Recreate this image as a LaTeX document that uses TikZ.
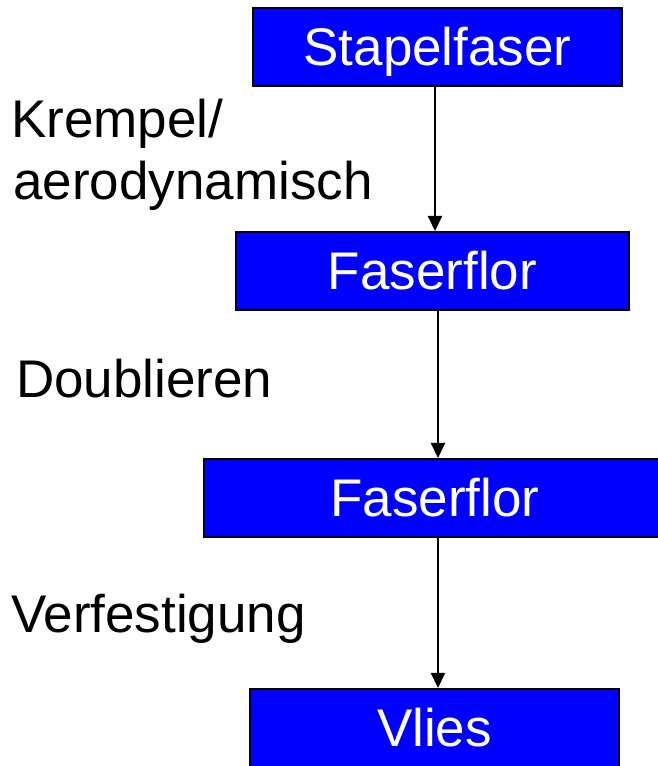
\documentclass[tikz,border=0pt]{standalone}
\usepackage{fontspec}
\setmainfont{Liberation Sans}
\usetikzlibrary{arrows.meta}

\begin{document}
\begin{tikzpicture}[x=1pt,y=1pt,
  stage/.style={draw=black, line width=2pt, fill={rgb,255:red,0;green,0;blue,255},
    text=white, inner sep=0pt, minimum height=78pt,
    font=\fontsize{53}{63}\selectfont, text height=37.9pt, text depth=0pt},
  steplabel/.style={anchor=base west, inner sep=0pt, text=black,
    font=\fontsize{53}{63}\selectfont},
  flow/.style={line width=2pt, -{Triangle[length=15pt,width=14pt]}}]
  \useasboundingbox (0,0) rectangle (658,766);
  \fill[white] (0,0) rectangle (658,766);

  % process stages
  \node[stage, minimum width=369pt] (b1) at (437.5,719) {Stapelfaser};
  \node[stage, minimum width=393pt] (b2) at (432.5,495) {Faserflor};
  \node[stage, minimum width=462pt] (b3) at (435,268) {Faserflor};
  \node[stage, minimum width=369pt] (b4) at (434.5,38) {Vlies};

  % process steps
  \node[steplabel] (l1) at (11,628) {Krempel/};
  \node[steplabel] (l2) at (13,566) {aerodynamisch};
  \node[steplabel] (l3) at (16,368) {Doublieren};
  \node[steplabel] (l4) at (11,133) {Verfestigung};

  % connector columns
  \coordinate (c1) at (435,0);
  \coordinate (c2) at (438,0);

  \draw[flow] (b1.south -| c1) -- (b2.north -| c1);
  \draw[flow] (b2.south -| c2) -- (b3.north -| c2);
  \draw[flow] (b3.south -| c2) -- (b4.north -| c2);
\end{tikzpicture}
\end{document}
